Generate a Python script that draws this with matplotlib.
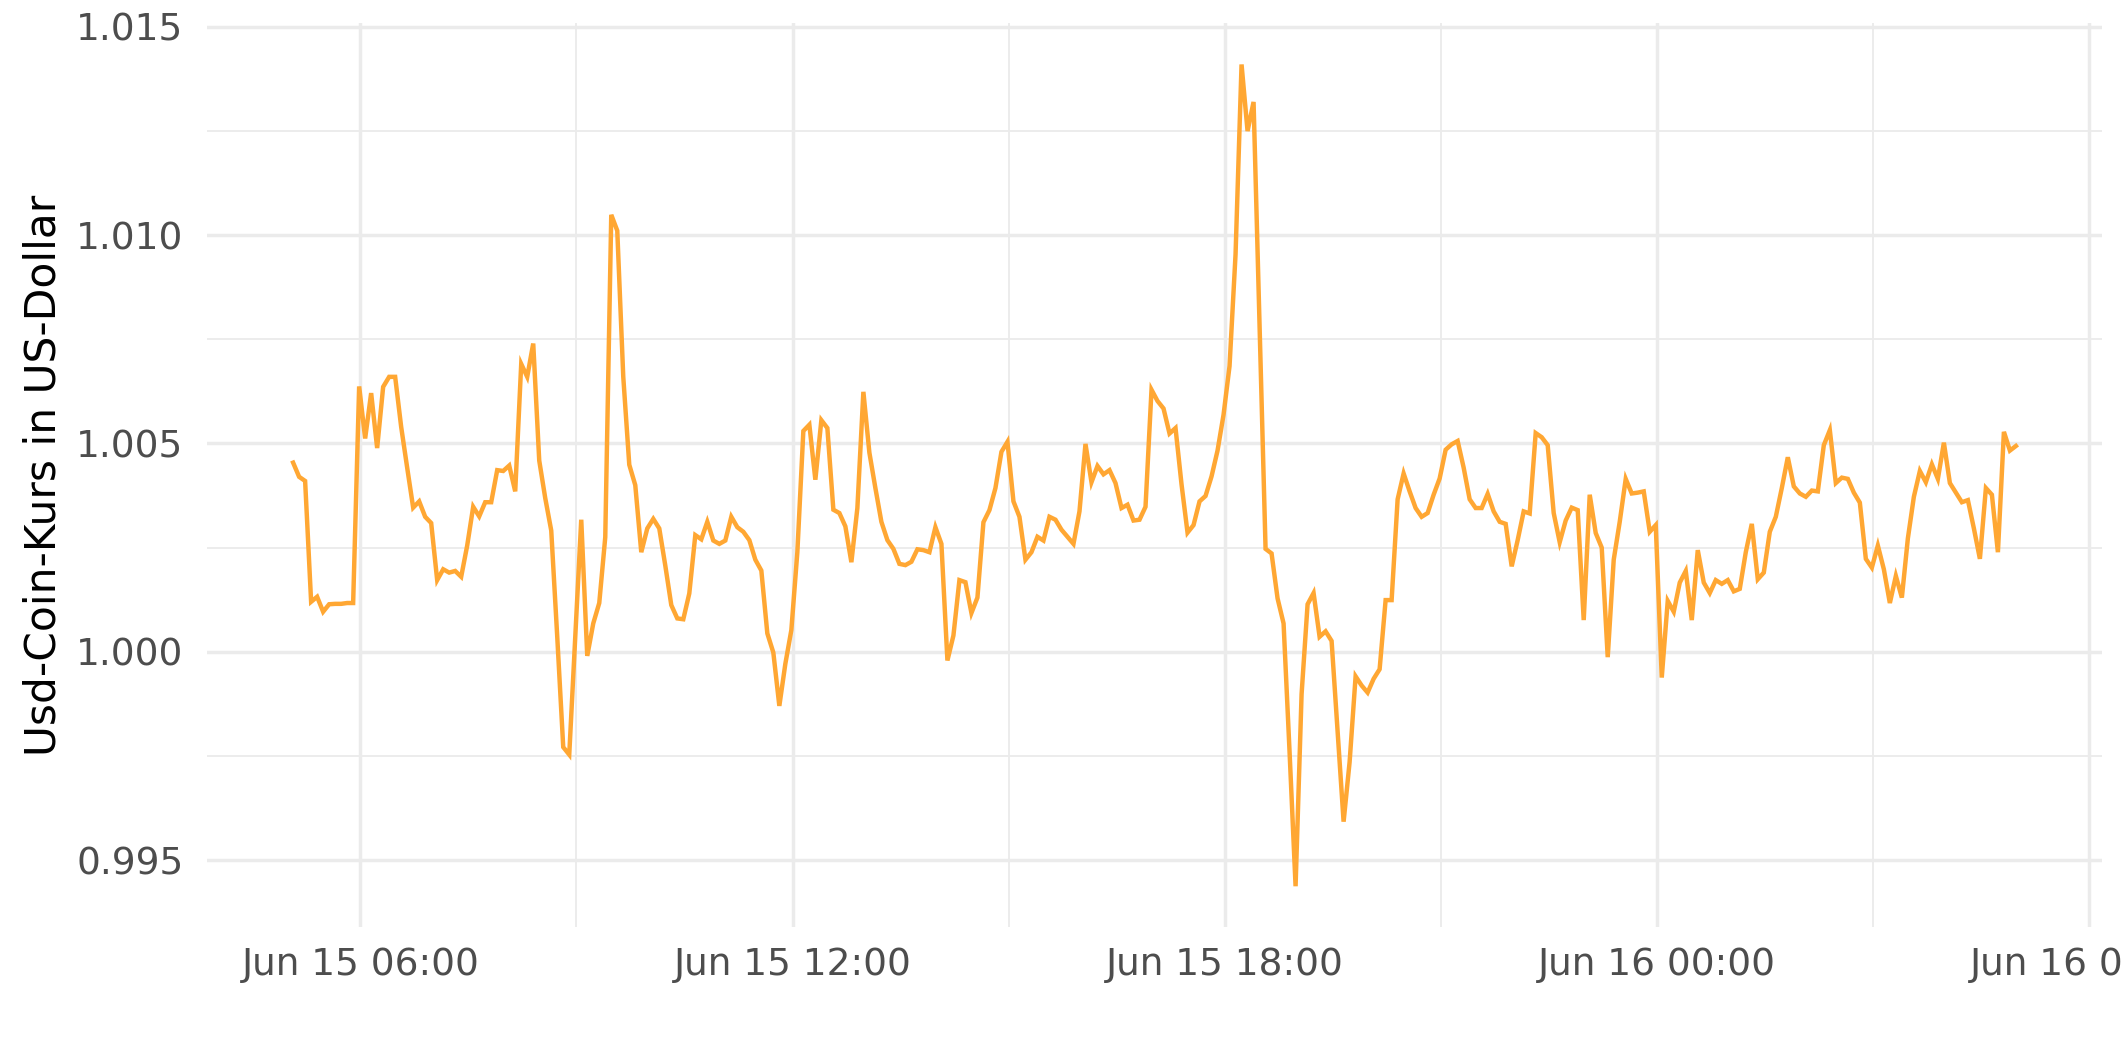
"""
USDC price over one day, ggplot-minimal look.
"""

import numpy as np
import pandas as pd
import matplotlib
matplotlib.use("Agg")
from matplotlib import pyplot as plt
import matplotlib.dates as mdates
from matplotlib.ticker import MultipleLocator, FormatStrFormatter

### data: 5-minute quotes starting Jun 15 05:04 ###
start = "2023-06-15 05:04"
price = [
    1.00454, 1.00420, 1.00410, 1.00120, 1.00132, 1.00096, 1.00114, 1.00115, 1.00115, 1.00117,
    1.00117, 1.00637, 1.00512, 1.00621, 1.00489, 1.00636, 1.00660, 1.00660, 1.00540, 1.00442,
    1.00346, 1.00361, 1.00324, 1.00309, 1.00172, 1.00198, 1.00190, 1.00194, 1.00180, 1.00255,
    1.00348, 1.00325, 1.00359, 1.00359, 1.00436, 1.00434, 1.00447, 1.00385, 1.00691, 1.00660,
    1.00740, 1.00459, 1.00369, 1.00291, 1.00036, 0.99771, 0.99753, 1.00036, 1.00317, 0.99990,
    1.00068, 1.00117, 1.00275, 1.01049, 1.01011, 1.00660, 1.00449, 1.00400, 1.00239, 1.00296,
    1.00319, 1.00296, 1.00207, 1.00112, 1.00080, 1.00078, 1.00140, 1.00280, 1.00270, 1.00312,
    1.00267, 1.00259, 1.00267, 1.00324, 1.00299, 1.00288, 1.00268, 1.00221, 1.00195, 1.00044,
    0.99998, 0.99870, 0.99971, 1.00052, 1.00239, 1.00530, 1.00545, 1.00413, 1.00556, 1.00537,
    1.00341, 1.00333, 1.00301, 1.00215, 1.00345, 1.00624, 1.00478, 1.00393, 1.00312, 1.00268,
    1.00247, 1.00211, 1.00208, 1.00216, 1.00246, 1.00244, 1.00239, 1.00299, 1.00259, 0.99979,
    1.00039, 1.00172, 1.00167, 1.00093, 1.00130, 1.00311, 1.00340, 1.00393, 1.00480, 1.00504,
    1.00361, 1.00324, 1.00221, 1.00239, 1.00276, 1.00267, 1.00324, 1.00317, 1.00293, 1.00276,
    1.00259, 1.00337, 1.00499, 1.00407, 1.00446, 1.00426, 1.00436, 1.00405, 1.00345, 1.00353,
    1.00315, 1.00317, 1.00348, 1.00629, 1.00602, 1.00584, 1.00524, 1.00537, 1.00402, 1.00286,
    1.00304, 1.00361, 1.00374, 1.00421, 1.00483, 1.00569, 1.00686, 1.00954, 1.01410, 1.01250,
    1.01320, 1.00784, 1.00247, 1.00236, 1.00128, 1.00068, 0.99759, 0.99437, 0.99898, 1.00114,
    1.00141, 1.00036, 1.00049, 1.00026, 0.99808, 0.99592, 0.99735, 0.99941, 0.99919, 0.99902,
    0.99935, 0.99958, 1.00124, 1.00124, 1.00366, 1.00428, 1.00385, 1.00345, 1.00324, 1.00333,
    1.00377, 1.00416, 1.00485, 1.00498, 1.00506, 1.00442, 1.00366, 1.00345, 1.00345, 1.00379,
    1.00337, 1.00312, 1.00307, 1.00205, 1.00268, 1.00337, 1.00332, 1.00525, 1.00515, 1.00496,
    1.00333, 1.00263, 1.00315, 1.00346, 1.00340, 1.00076, 1.00377, 1.00285, 1.00250, 0.99987,
    1.00221, 1.00312, 1.00415, 1.00380, 1.00382, 1.00385, 1.00288, 1.00304, 0.99938, 1.00122,
    1.00096, 1.00166, 1.00194, 1.00076, 1.00244, 1.00166, 1.00141, 1.00172, 1.00163, 1.00172,
    1.00145, 1.00151, 1.00239, 1.00307, 1.00174, 1.00190, 1.00288, 1.00324, 1.00393, 1.00467,
    1.00397, 1.00380, 1.00372, 1.00387, 1.00385, 1.00496, 1.00532, 1.00405, 1.00418, 1.00415,
    1.00382, 1.00358, 1.00223, 1.00202, 1.00255, 1.00198, 1.00117, 1.00182, 1.00130, 1.00272,
    1.00372, 1.00434, 1.00407, 1.00450, 1.00415, 1.00502, 1.00405, 1.00382, 1.00359, 1.00364,
    1.00296, 1.00223, 1.00393, 1.00377, 1.00239, 1.00528, 1.00483, 1.00494,
]
times = pd.date_range(start, periods=len(price), freq="5min")

y_label = "Usd-Coin-Kurs in US-Dollar"
line_color = "#FFA733"
grid_color = "#EBEBEB"
text_color = "#4D4D4D"

fig = plt.figure(figsize=(21.25, 10.62), dpi=100)
ax = fig.add_axes([0.0974, 0.1268, 0.9892 - 0.0974, 0.978 - 0.1268])

ax.plot(times, price, color=line_color, linewidth=3.2, solid_joinstyle="miter", zorder=3)

# ggplot-style 5% expansion on both axes
t0, t1 = mdates.date2num(times[0]), mdates.date2num(times[-1])
dt = t1 - t0
ax.set_xlim(t0 - 0.05 * dt, t1 + 0.05 * dt)
ymin, ymax = min(price), max(price)
dy = ymax - ymin
ax.set_ylim(ymin - 0.05 * dy, ymax + 0.05 * dy)

# ticks and grid
ax.xaxis.set_major_locator(mdates.HourLocator(byhour=[0, 6, 12, 18]))
ax.xaxis.set_minor_locator(mdates.HourLocator(byhour=[3, 9, 15, 21]))
ax.xaxis.set_major_formatter(mdates.DateFormatter("%b %d %H:%M"))
ax.yaxis.set_major_locator(MultipleLocator(0.005))
ax.yaxis.set_minor_locator(MultipleLocator(0.0025))
ax.yaxis.set_major_formatter(FormatStrFormatter("%.3f"))

ax.grid(which="major", color=grid_color, linewidth=2.5, zorder=0)
ax.grid(which="minor", color=grid_color, linewidth=1.3, zorder=0)
ax.set_axisbelow(True)
for s in ax.spines.values():
    s.set_visible(False)

ax.tick_params(which="both", length=0)
ax.tick_params(axis="x", labelsize=27, labelcolor=text_color, pad=14)
ax.tick_params(axis="y", labelsize=27, labelcolor=text_color, pad=17)
ax.set_ylabel(y_label, fontsize=30.5, color="black", labelpad=8)

fig.savefig("out.png", dpi=100)
